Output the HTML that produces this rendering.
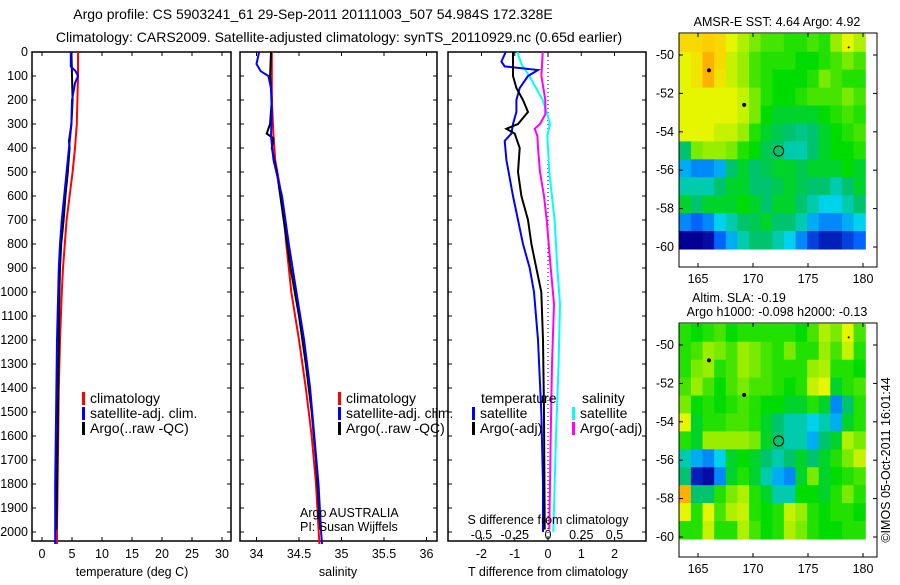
<!DOCTYPE html>
<html><head><meta charset="utf-8"><style>
body{margin:0;background:#fff}
svg text{font-family:"Liberation Sans",sans-serif;font-size:12px;fill:#000}
svg text.big{font-size:14px}
svg text.lg{font-size:14px}
svg text.ax{font-size:12.5px}
</style></head><body>
<svg id="c" width="900" height="580" xmlns="http://www.w3.org/2000/svg"></svg>
<script>
// ---- data ----
const tickP=[0,100,200,300,400,500,600,700,800,900,1000,1100,1200,1300,1400,1500,1600,1700,1800,1900,2000];
const tempTicks=[0,5,10,15,20,25,30];
const salTicks=[34,34.5,35,35.5,36];
const salTickLabels=["34","34.5","35","35.5","36"];
const dTTicks=[-2,-1,0,1,2];
const dSTicks=[-0.5,-0.25,0,0.25,0.5];
const dSTickLabels=["-0.5","-0.25","0","0.25","0.5"];
const tClimP=[0,100,200,300,400,500,600,700,800,900,1000,1200,1400,1600,1800,2000,2050];
const tClim=[6.0,6.0,5.9,5.8,5.5,5.1,4.6,4.1,3.8,3.5,3.3,3.0,2.8,2.7,2.6,2.5,2.5];
const tSatP=[0,60,80,100,130,200,300,400,500,600,700,800,900,1000,1200,1400,1600,1800,2000,2050];
const tSat=[4.8,4.8,5.6,6.0,5.5,5.0,4.9,4.5,4.1,3.7,3.3,3.0,2.8,2.7,2.5,2.4,2.3,2.2,2.2,2.2];
const tArgoP=[0,100,200,300,370,400,500,600,700,800,900,1000,1200,1400,1600,1800,1990];
const tArgo=[4.9,5.0,5.1,4.9,4.5,4.6,4.3,3.9,3.6,3.2,3.0,2.9,2.8,2.7,2.6,2.5,2.4];
const sClimP=[0,200,350,450,550,650,800,1000,1200,1400,1600,1800,2050];
const sClim=[34.18,34.18,34.2,34.22,34.27,34.31,34.35,34.41,34.5,34.58,34.65,34.7,34.74];
const sSatP=[0,50,80,100,150,250,350,450,600,800,1000,1200,1400,1600,1800,2000,2050];
const sSat=[34.03,34.0,34.05,34.14,34.17,34.18,34.17,34.2,34.3,34.38,34.47,34.56,34.63,34.68,34.73,34.76,34.77];
const sArgoP=[0,100,200,300,340,360,400,500,700,900,1100,1300,1500,1700,1990];
const sArgo=[34.17,34.16,34.18,34.16,34.12,34.2,34.18,34.24,34.32,34.4,34.5,34.58,34.65,34.7,34.75];
const dTSatP=[0,40,60,75,100,150,200,250,300,340,370,450,600,700,800,900,1000,1200,1500,1800,2000];
const dTSat=[-1.27,-1.4,-1.3,-0.3,-0.6,-0.85,-0.95,-0.95,-1.05,-1.1,-1.3,-1.25,-1.05,-0.9,-0.75,-0.55,-0.42,-0.3,-0.2,-0.15,-0.15];
const dTArgoP=[0,100,150,200,250,300,320,340,400,500,600,700,800,900,1000,1200,1500,1990];
const dTArgo=[-1.05,-1.05,-0.95,-0.75,-0.6,-0.9,-1.25,-1.0,-0.85,-0.9,-0.8,-0.6,-0.5,-0.35,-0.2,-0.15,-0.12,-0.1];
const dSSatP=[0,50,100,150,200,250,300,350,400,500,700,900,1050,1300,1600,2000];
const dSSat=[-0.23,-0.2,-0.14,-0.09,-0.04,-0.01,0.015,-0.005,0.0,0.01,0.05,0.07,0.09,0.08,0.06,0.04];
const dSArgoP=[0,100,200,260,300,320,350,400,500,600,700,900,1050,1300,1600,1990];
const dSArgo=[-0.04,-0.05,-0.02,-0.02,-0.06,-0.1,-0.08,-0.075,-0.06,-0.03,-0.01,0.02,0.045,0.03,0.02,0.01];
const lonTicks=[165,170,175,180];
const latTicks=[-50,-52,-54,-56,-58,-60];
const sstGrid=[
[0.8,0.8,0.82,0.8,0.75,0.7,0.65,0.62,0.62,0.6,0.6,0.62,0.6,0.68,0.75,0.7],
[0.75,0.78,0.85,0.8,0.72,0.68,0.62,0.6,0.6,0.6,0.58,0.58,0.6,0.62,0.65,0.62],
[0.75,0.78,0.85,0.78,0.72,0.68,0.62,0.6,0.58,0.58,0.58,0.6,0.65,0.62,0.6,0.6],
[0.75,0.75,0.75,0.75,0.75,0.72,0.65,0.6,0.58,0.58,0.6,0.62,0.62,0.62,0.65,0.62],
[0.75,0.75,0.75,0.75,0.75,0.72,0.65,0.58,0.55,0.55,0.55,0.55,0.58,0.6,0.62,0.6],
[0.75,0.75,0.75,0.72,0.72,0.68,0.6,0.55,0.52,0.5,0.48,0.5,0.55,0.58,0.6,0.62],
[0.5,0.65,0.68,0.68,0.65,0.6,0.58,0.52,0.5,0.45,0.45,0.5,0.55,0.58,0.58,0.6],
[0.35,0.3,0.3,0.35,0.5,0.55,0.5,0.52,0.55,0.55,0.52,0.55,0.55,0.55,0.58,0.55],
[0.45,0.45,0.45,0.5,0.55,0.55,0.5,0.5,0.52,0.55,0.52,0.5,0.5,0.45,0.5,0.55],
[0.55,0.5,0.55,0.55,0.55,0.58,0.55,0.5,0.55,0.55,0.5,0.45,0.4,0.4,0.45,0.5],
[0.3,0.25,0.3,0.4,0.45,0.5,0.52,0.55,0.5,0.5,0.45,0.35,0.3,0.3,0.35,0.4],
[0.1,0.08,0.12,0.25,0.35,0.45,0.5,0.5,0.45,0.4,0.3,0.2,0.15,0.15,0.2,0.25]];
const slaGrid=[
[0.6,0.58,0.6,0.62,0.58,0.6,0.6,0.6,0.6,0.6,0.58,0.62,0.7,0.65,0.75,0.62],
[0.6,0.62,0.68,0.65,0.62,0.68,0.65,0.62,0.6,0.65,0.6,0.6,0.68,0.62,0.72,0.6],
[0.6,0.65,0.68,0.6,0.62,0.68,0.65,0.62,0.6,0.6,0.6,0.68,0.7,0.6,0.6,0.58],
[0.62,0.68,0.62,0.58,0.62,0.65,0.62,0.62,0.6,0.58,0.6,0.72,0.75,0.55,0.6,0.62],
[0.65,0.58,0.6,0.58,0.6,0.62,0.6,0.58,0.58,0.55,0.55,0.6,0.55,0.3,0.5,0.6],
[0.75,0.55,0.6,0.6,0.62,0.62,0.6,0.55,0.5,0.45,0.45,0.4,0.45,0.35,0.55,0.6],
[0.6,0.55,0.68,0.68,0.68,0.68,0.65,0.55,0.5,0.45,0.45,0.35,0.5,0.55,0.7,0.65],
[0.45,0.35,0.3,0.4,0.55,0.58,0.55,0.5,0.45,0.5,0.55,0.5,0.55,0.6,0.65,0.72],
[0.5,0.15,0.12,0.3,0.55,0.6,0.55,0.45,0.35,0.3,0.55,0.65,0.55,0.58,0.6,0.62],
[0.85,0.5,0.5,0.6,0.65,0.7,0.6,0.55,0.45,0.45,0.58,0.58,0.55,0.6,0.65,0.6],
[0.75,0.6,0.75,0.62,0.7,0.72,0.6,0.58,0.6,0.72,0.68,0.6,0.58,0.6,0.6,0.58],
[0.6,0.6,0.72,0.6,0.6,0.7,0.62,0.58,0.6,0.7,0.65,0.6,0.58,0.58,0.6,0.6]];
const floatLon=172.33, floatLat=-55.0;
const dotLon=[166.0,169.2,178.7], dotLat=[-50.8,-52.6,-49.6];

// ---- helpers ----
const S=document.getElementById('c'),NS='http://www.w3.org/2000/svg';
function mk(t,a,p){const e=document.createElementNS(NS,t);for(const k in a)e.setAttribute(k,a[k]);(p||S).appendChild(e);return e;}
function txt(x,y,s,anchor,p,cls){const e=mk('text',{x:x,y:y,'text-anchor':anchor||'middle'},p);if(cls)e.setAttribute('class',cls);e.textContent=s;return e;}
const yP=p=>52+p*0.24;
const BOT=541;
function panel(x0,x1,name){
  const g=mk('g',{});
  
  
  mk('rect',{x:x0,y:52,width:x1-x0,height:BOT-52,fill:'none',stroke:'#000','stroke-width':1.5},g);
  tickP.forEach(p=>{mk('line',{x1:x0,x2:x0+4,y1:yP(p),y2:yP(p),stroke:'#000'},g);mk('line',{x1:x1-4,x2:x1,y1:yP(p),y2:yP(p),stroke:'#000'},g);});
  return g;
}
function line(g,ps,vs,fx,col,name,w){
  const pts=ps.map((p,i)=>fx(vs[i]).toFixed(1)+','+yP(p).toFixed(1)).join(' ');
  const e=mk('polyline',{points:pts,fill:'none',stroke:col,'stroke-width':w||2},g);
  
  
}
function xticks(g,ticks,labels,fx,ly,top){
  ticks.forEach((t,i)=>{const x=fx(t);
    mk('line',{x1:x,x2:x,y1:BOT,y2:BOT-4,stroke:'#000'},g);
    if(top)mk('line',{x1:x,x2:x,y1:52,y2:56,stroke:'#000'},g);
    txt(x,ly,labels[i],'middle',g,'ax');});
}
function legend(g,x,y,items){
  items.forEach((it,i)=>{mk('rect',{x:x,y:y+i*15-11,width:3,height:13,fill:it[1]},g);txt(x+8,y+i*15,it[0],'start',g,'lg');});
}

// titles
const t1=txt(313,19,'Argo profile: CS 5903241_61 29-Sep-2011 20111003_507 54.984S 172.328E','middle',S,'big');

const t2=txt(339,42,'Climatology: CARS2009. Satellite-adjusted climatology: synTS_20110929.nc (0.65d earlier)','middle',S,'big');


// y labels
const yl=mk('g',{});
tickP.forEach(p=>txt(28,yP(p)+4,String(p),'end',yl,'ax'));

// panel 1 temperature
const fT=v=>42+v*6;
const g1=panel(32,231,'temperature-panel');
xticks(g1,tempTicks,tempTicks.map(String),fT,558,true);
txt(132,576,'temperature (deg C)','middle',g1,'ax');
line(g1,tClimP,tClim,fT,'#f00','temp-climatology-line');
line(g1,tArgoP,tArgo,fT,'#000','temp-argo-line');
line(g1,tSatP,tSat,fT,'#00f','temp-satellite-line');
legend(g1,82,403,[['climatology','#f00'],['satellite-adj. clim.','#00f'],['Argo(..raw -QC)','#000']]);

// panel 2 salinity
const fS=v=>256.5+(v-34)*85;
const g2=panel(240,437,'salinity-panel');
xticks(g2,salTicks,salTickLabels,fS,558,true);
txt(338,576,'salinity','middle',g2,'ax');
line(g2,sClimP,sClim,fS,'#f00','sal-climatology-line');
line(g2,sArgoP,sArgo,fS,'#000','sal-argo-line');
line(g2,sSatP,sSat,fS,'#00f','sal-satellite-line');
legend(g2,338,403,[['climatology','#f00'],['satellite-adj. clim.','#00f'],['Argo(..raw -QC)','#000']]);
txt(300,517,'Argo AUSTRALIA','start',g2,'ax');
txt(300,531,'PI: Susan Wijffels','start',g2,'ax');

// panel 3 differences
const fdT=v=>548+v*33.3, fdS=v=>548+v*133;
const g3=panel(448,646,'difference-panel');
mk('line',{x1:548,x2:548,y1:52,y2:BOT,stroke:'#000','stroke-dasharray':'1,3'},g3);
line(g3,dSSatP,dSSat,fdS,'#0ff','sal-diff-satellite-line');
line(g3,dSArgoP,dSArgo,fdS,'#f0f','sal-diff-argo-line');
line(g3,dTSatP,dTSat,fdT,'#00f','temp-diff-satellite-line');
line(g3,dTArgoP,dTArgo,fdT,'#000','temp-diff-argo-line');
xticks(g3,dTTicks,dTTicks.map(String),fdT,558,false);
dSTicks.forEach((t,i)=>{const x=fdS(t);mk('line',{x1:x,x2:x,y1:52,y2:56,stroke:'#000'},g3);txt(x,539,dSTickLabels[i],'middle',g3,'ax');});
txt(548,524,'S difference from climatology','middle',g3,'ax');
txt(548,576,'T difference from climatology','middle',g3,'ax');
txt(481,403,'temperature','start',g3,'lg');txt(582,403,'salinity','start',g3,'lg');
legend(g3,472,418,[['satellite','#00f'],['Argo(-adj)','#000']]);
legend(g3,572,418,[['satellite','#0ff'],['Argo(-adj)','#f0f']]);

// maps
const cmapStops=[[0,[0,0,120]],[0.1,[0,0,150]],[0.25,[0,100,255]],[0.4,[0,210,235]],[0.5,[0,195,110]],[0.58,[0,220,0]],[0.65,[120,235,0]],[0.75,[230,245,0]],[0.82,[255,205,0]],[0.9,[255,130,0]],[1,[220,30,0]]];
function cmap(v){for(let i=1;i<cmapStops.length;i++){if(v<=cmapStops[i][0]){const a=cmapStops[i-1],b=cmapStops[i],f=(v-a[0])/(b[0]-a[0]);return 'rgb('+a[1].map((c,k)=>Math.round(c+(b[1][k]-c)*f)).join(',')+')';}}return 'rgb(220,30,0)';}
function map(oy,grid,name){
  const g=mk('g',{});
  const fx=l=>698+(l-165)*11, fy=l=>oy+55+(-50-l)*19.2;
  const x0=fx(163.3),x1=fx(180.2),y0=fy(-48.9),y1=fy(-60.1);
  const cw=(x1-x0)/grid[0].length,ch=(y1-y0)/grid.length;
  grid.forEach((row,r)=>row.forEach((v,c)=>{mk('rect',{x:(x0+c*cw).toFixed(2),y:(y0+r*ch).toFixed(2),width:(cw+0.6).toFixed(2),height:(ch+0.6).toFixed(2),fill:cmap(v)},g);}));
  mk('rect',{x:679,y:oy+33,width:198,height:234,fill:'none',stroke:'#000'},g);
  lonTicks.forEach(l=>{mk('line',{x1:fx(l),x2:fx(l),y1:oy+267,y2:oy+263,stroke:'#000'},g);mk('line',{x1:fx(l),x2:fx(l),y1:oy+33,y2:oy+37,stroke:'#000'},g);txt(fx(l),oy+283,String(l),'middle',g,'ax');});
  latTicks.forEach(l=>{mk('line',{x1:679,x2:683,y1:fy(l),y2:fy(l),stroke:'#000'},g);mk('line',{x1:873,x2:877,y1:fy(l),y2:fy(l),stroke:'#000'},g);txt(674,fy(l)+4,String(l),'end',g,'ax');});
  dotLon.forEach((l,i)=>mk('circle',{cx:fx(l),cy:fy(dotLat[i]),r:i==2?1:2,fill:'#000'},g));
  const c=mk('circle',{cx:fx(floatLon),cy:fy(floatLat),r:5,fill:'none',stroke:'#000'},g);
  
  return g;
}
const m1=map(0,sstGrid,'sst-map');
txt(777,26,'AMSR-E SST: 4.64  Argo: 4.92','middle',m1,'ax');
const m2=map(290,slaGrid,'sla-map');
txt(739,302,'Altim. SLA: -0.19','middle',m2,'ax');
txt(777,316,'Argo h1000: -0.098 h2000: -0.13','middle',m2,'ax');
const cr=txt(0,0,'©IMOS 05-Oct-2011 16:01:44','middle',S,'ax');
cr.setAttribute('transform','translate(890,460) rotate(-90)');


</script>
</body></html>
